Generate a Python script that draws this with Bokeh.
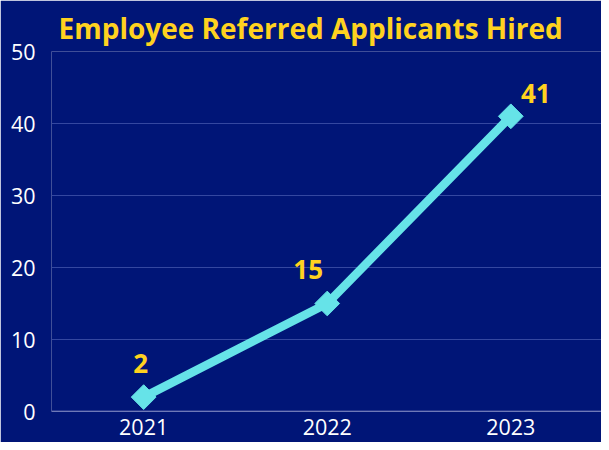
from bokeh.plotting import figure
from bokeh.models import ColumnDataSource, Range1d, FixedTicker, Span, Title, LabelSet
from bokeh.embed import file_html
from bokeh.resources import INLINE
from bokeh.core.properties import value

title_text = "Employee Referred Applicants Hired"
years = [2021, 2022, 2023]
hired = [2, 15, 41]
labels = ["2", "15", "41"]
y_ticks = [0, 10, 20, 30, 40, 50]
label_dx = [-3, -19, 25]
label_dy = [34, 34, 23]

BG = "#001577"
YELLOW = "#FFD21F"
CYAN = "#66E3E8"

p = figure(width=601, height=442, output_backend="svg", toolbar_location=None,
           x_range=Range1d(2020.498, 2023.494), y_range=Range1d(0, 50),
           min_border_left=51, min_border_right=0, min_border_top=51, min_border_bottom=31)
p.background_fill_color = BG
p.border_fill_color = BG
p.outline_line_color = None

p.title = Title(text=title_text, align="left",
                text_color=YELLOW, text_font="Open Sans", text_font_size="28px",
                text_font_style="bold", offset=7, standoff=10)

for ax in (p.xaxis[0], p.yaxis[0]):
    ax.axis_line_color = None
    ax.major_tick_line_color = None
    ax.minor_tick_line_color = None
    ax.major_tick_out = 0
    ax.major_tick_in = 0
    ax.minor_tick_out = 0
    ax.major_label_text_color = "#FFFFFF"
    ax.major_label_text_font = "Open Sans"
    ax.major_label_text_font_size = "21.5px"
p.xaxis.ticker = FixedTicker(ticks=years)
p.yaxis.ticker = FixedTicker(ticks=y_ticks)
p.xaxis.major_label_standoff = 7
p.yaxis.major_label_standoff = 16

p.xgrid.grid_line_color = None
p.ygrid.grid_line_color = "#3447A0"
p.ygrid.grid_line_width = 1
p.add_layout(Span(location=0, dimension="width", line_color="#9EA3D6", line_width=1.5))

src = ColumnDataSource(dict(x=years, y=hired, t=labels, dx=label_dx, dy=label_dy))
p.line("x", "y", source=src, line_color=CYAN, line_width=8.5)
p.scatter("x", "y", source=src, marker="square", angle=0.785398, size=17.5,
          fill_color=CYAN, line_color=CYAN)
p.add_layout(LabelSet(x="x", y="y", text="t", x_offset="dx", y_offset="dy", source=src,
                      text_color=YELLOW, text_font=value("Open Sans"), text_font_size="26px",
                      text_font_style="bold", text_align="center", text_baseline="middle"))

open("out.html", "w").write(file_html(p, INLINE))
